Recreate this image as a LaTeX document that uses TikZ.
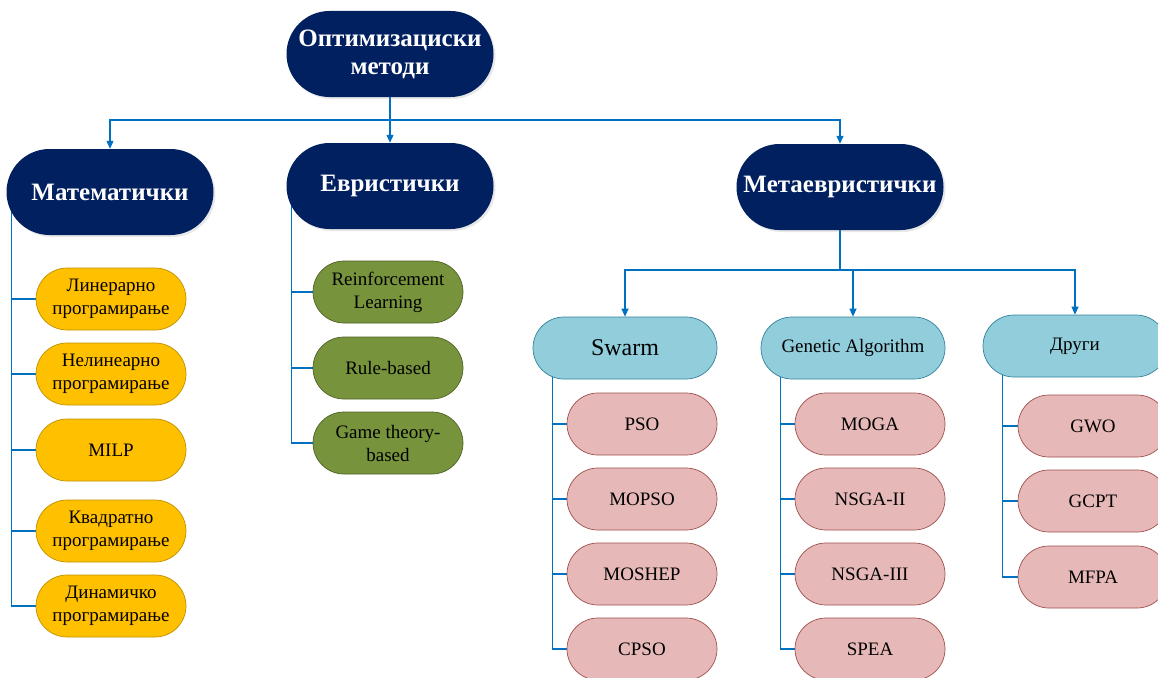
\documentclass[tikz,border=0pt]{standalone}
\usepackage{fontspec}
\setmainfont{Liberation Serif}
\usetikzlibrary{arrows.meta,shadows,backgrounds}
\definecolor{navy}{HTML}{002060}
\definecolor{linkblue}{HTML}{0070C0}
\definecolor{goldfill}{HTML}{FFC000}
\definecolor{goldline}{HTML}{BF9000}
\definecolor{olivefill}{HTML}{77933C}
\definecolor{oliveline}{HTML}{4F6228}
\definecolor{tealfill}{HTML}{92CDDC}
\definecolor{tealline}{HTML}{31849B}
\definecolor{rosefill}{HTML}{E6B9B8}
\definecolor{roseline}{HTML}{A0504D}
\begin{document}
\begin{tikzpicture}[x=1pt,y=-1pt,
  every node/.style={align=center,inner sep=0pt},
  headbox/.style={fill=navy,text=white,font=\bfseries\fontsize{25}{28}\selectfont,
    minimum width=207pt,minimum height=86pt,rounded corners=43pt,
    drop shadow={opacity=0.18,shadow xshift=2pt,shadow yshift=-2pt}},
  goldbox/.style={fill=goldfill,draw=goldline,line width=0.7pt,
    font=\fontsize{19}{23}\selectfont,minimum width=150pt,minimum height=62pt,rounded corners=31pt},
  olivebox/.style={fill=olivefill,draw=oliveline,line width=0.7pt,
    font=\fontsize{19}{23}\selectfont,minimum width=150pt,minimum height=62pt,rounded corners=31pt},
  tealbox/.style={fill=tealfill,draw=tealline,line width=0.7pt,
    font=\fontsize{19}{23}\selectfont,minimum width=184pt,minimum height=62pt,rounded corners=31pt},
  rosebox/.style={fill=rosefill,draw=roseline,line width=0.7pt,
    font=\fontsize{19}{23}\selectfont,minimum width=150pt,minimum height=62pt,rounded corners=31pt},
  link/.style={draw=linkblue,line width=1.1pt},
  arrowlink/.style={link,-{Triangle[length=8pt,width=7pt]}}
]
\useasboundingbox (0,0) rectangle (1158,677);

% top level
\node[headbox] (top) at (390,54) {Оптимизациски\\методи};

% main families
\node[headbox] (math) at (110,192) {Математички};
\node[headbox] (heur) at (390,186) {Евристички};
\node[headbox] (meta) at (840,187) {Метаевристички};

% mathematical methods
\node[goldbox] (lin)  at (111,299) {Линерарно\\програмирање};
\node[goldbox] (nlin) at (111,374) {Нелинеарно\\програмирање};
\node[goldbox] (milp) at (111,450) {MILP};
\node[goldbox] (quad) at (111,531) {Квадратно\\програмирање};
\node[goldbox] (dyn)  at (111,606) {Динамичко\\програмирање};

% heuristic methods
\node[olivebox] (rl)   at (388,292) {Reinforcement\\Learning};
\node[olivebox] (rule) at (388,368) {Rule-based};
\node[olivebox] (game) at (388,443) {Game theory-\\based};

% metaheuristic groups
\node[tealbox,font=\fontsize{24}{28}\selectfont] (swarm) at (625,348) {Swarm};
\node[tealbox] (ga)    at (853,348) {Genetic Algorithm};
\node[tealbox] (other) at (1075,346) {Други};

% swarm methods
\node[rosebox] (pso)    at (642,424) {PSO};
\node[rosebox] (mopso)  at (642,499) {MOPSO};
\node[rosebox] (moshep) at (642,574) {MOSHEP};
\node[rosebox] (cpso)   at (642,649) {CPSO};

% genetic methods
\node[rosebox] (moga)   at (870,424) {MOGA};
\node[rosebox] (nsga2)  at (870,499) {NSGA-II};
\node[rosebox] (nsga3)  at (870,574) {NSGA-III};
\node[rosebox] (spea)   at (870,649) {SPEA};

% other methods
\node[rosebox] (gwo)  at (1093,426) {GWO};
\node[rosebox] (gcpt) at (1093,501) {GCPT};
\node[rosebox] (mfpa) at (1093,577) {MFPA};

\begin{scope}[on background layer]
  \coordinate (bus) at (390,120);
  \draw[link] (top.south) -- (bus);
  \draw[arrowlink] (bus) -| (math.north);
  \draw[arrowlink] (bus) -- (heur.north);
  \draw[arrowlink] (bus) -| (meta.north);

  \coordinate (metabus) at (840,270);
  \draw[link] (meta.south) -- (metabus);
  \draw[arrowlink] (metabus) -| (swarm.north);
  \draw[arrowlink] (metabus) -| (ga.north);
  \draw[arrowlink] (metabus) -| (other.north);

  \foreach \c in {lin,nlin,milp,quad,dyn}
    \draw[link] ([xshift=5pt]math.west) |- (\c.west);
  \foreach \c in {rl,rule,game}
    \draw[link] ([xshift=5pt]heur.west) |- (\c.west);
  \foreach \c in {pso,mopso,moshep,cpso}
    \draw[link] ([xshift=20pt]swarm.west) |- (\c.west);
  \foreach \c in {moga,nsga2,nsga3,spea}
    \draw[link] ([xshift=20pt]ga.west) |- (\c.west);
  \foreach \c in {gwo,gcpt,mfpa}
    \draw[link] ([xshift=20pt]other.west) |- (\c.west);
\end{scope}
\end{tikzpicture}
\end{document}
